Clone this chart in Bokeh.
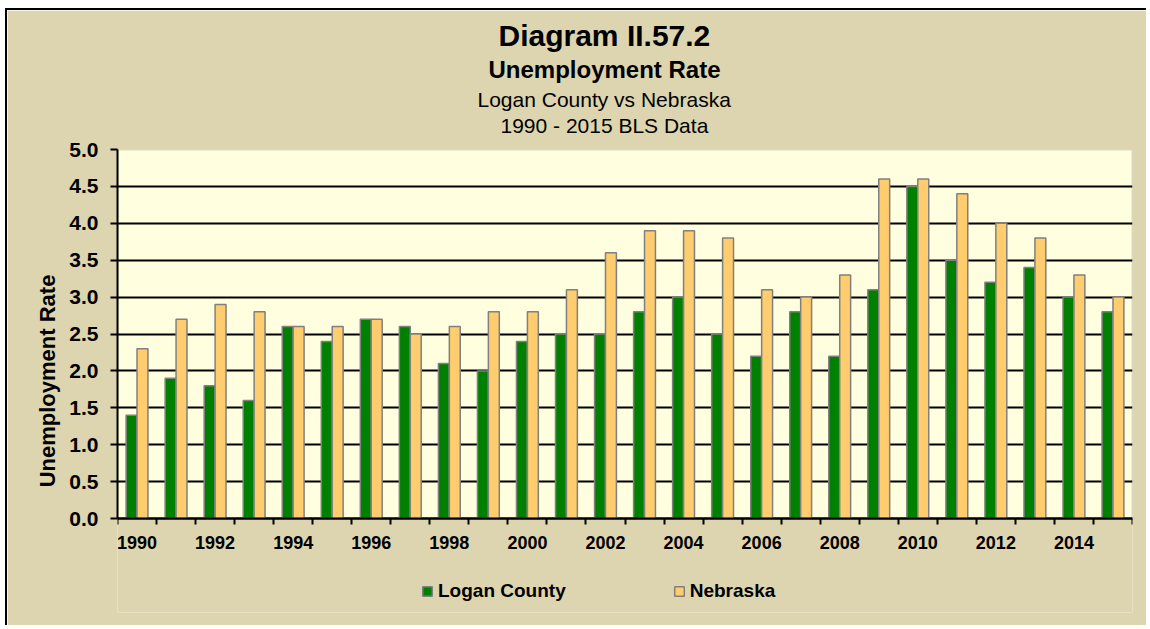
from bokeh.plotting import figure
from bokeh.models import (ColumnDataSource, FixedTicker, PrintfTickFormatter,
                          Title, Legend, LegendItem, Range1d, BoxAnnotation)
from bokeh.transform import dodge
from bokeh.embed import file_html
from bokeh.resources import INLINE

years = list(range(1990, 2016))
logan = [1.4, 1.9, 1.8, 1.6, 2.6, 2.4, 2.7, 2.6, 2.1, 2.0, 2.4, 2.5, 2.5,
         2.8, 3.0, 2.5, 2.2, 2.8, 2.2, 3.1, 4.5, 3.5, 3.2, 3.4, 3.0, 2.8]
nebraska = [2.3, 2.7, 2.9, 2.8, 2.6, 2.6, 2.7, 2.5, 2.6, 2.8, 2.8, 3.1, 3.6,
            3.9, 3.9, 3.8, 3.1, 3.0, 3.3, 4.6, 4.6, 4.4, 4.0, 3.8, 3.3, 3.0]
label_years = list(range(1990, 2016, 2))
y_ticks = [0.0, 0.5, 1.0, 1.5, 2.0, 2.5, 3.0, 3.5, 4.0, 4.5, 5.0]

src = ColumnDataSource(dict(year=years, logan=logan, nebraska=nebraska))

BG = "#DDD5AF"
PLOT_BG = "#FFFFE0"
FONT = "Liberation Sans"

# layout geometry (pixels): value axis 0..5 spans 369 px, and the frame
# extends 94 px below zero to hold the tick labels and the legend
Y_MAX = 5.0
AXIS_PX = 369
EXTRA_PX = 94
y_start = -Y_MAX * EXTRA_PX / AXIS_PX

p = figure(width=1141, height=617, output_backend="svg", toolbar_location=None,
           title=None,
           x_range=Range1d(years[0] - 0.5, years[-1] + 0.5),
           y_range=Range1d(y_start, Y_MAX),
           min_border_left=110, min_border_right=16,
           min_border_top=139, min_border_bottom=15,
           background_fill_color=BG, border_fill_color=BG,
           outline_line_color=None,
           styles={"margin-left": "5px", "margin-top": "8px",
                   "border-left": "2px solid black", "border-top": "2px solid black"})

# plot area background
p.add_layout(BoxAnnotation(bottom=0, top=Y_MAX, fill_color=PLOT_BG, fill_alpha=1,
                           line_color="#808080", line_width=2, level="image"))

r1 = p.vbar(x=dodge("year", -0.14, range=p.x_range), top="logan", width=0.28,
            source=src, fill_color="#008000", line_color="#808080", line_width=1.5)
r2 = p.vbar(x=dodge("year", 0.14, range=p.x_range), top="nebraska", width=0.28,
            source=src, fill_color="#FFCC6E", line_color="#808080", line_width=1.5)

# x axis
boundaries = [y - 0.5 for y in years] + [years[-1] + 0.5]
p.xaxis.fixed_location = 0
p.xaxis.ticker = FixedTicker(ticks=label_years, minor_ticks=boundaries)
p.xaxis.major_tick_line_color = None
p.xaxis.minor_tick_line_color = "black"
p.xaxis.minor_tick_line_width = 2
p.xaxis.minor_tick_out = 6
p.xaxis.minor_tick_in = 0
p.xaxis.axis_line_color = "black"
p.xaxis.axis_line_width = 2
p.xaxis.major_label_standoff = 11
p.xaxis.major_label_text_font = FONT
p.xaxis.major_label_text_font_style = "bold"
p.xaxis.major_label_text_font_size = "18px"
p.xaxis.major_label_text_color = "black"

# y axis
p.yaxis.bounds = (0, Y_MAX)
p.yaxis.ticker = FixedTicker(ticks=y_ticks)
p.yaxis.formatter = PrintfTickFormatter(format="%.1f")
p.yaxis.minor_tick_line_color = None
p.yaxis.major_tick_line_color = "black"
p.yaxis.major_tick_line_width = 2
p.yaxis.major_tick_out = 7
p.yaxis.major_tick_in = 0
p.yaxis.axis_line_color = "black"
p.yaxis.axis_line_width = 2
p.yaxis.major_label_standoff = 12
p.yaxis.major_label_text_font = FONT
p.yaxis.major_label_text_font_style = "bold"
p.yaxis.major_label_text_font_size = "21px"
p.yaxis.major_label_text_color = "black"
p.yaxis.axis_label = "Unemployment Rate"
p.yaxis.axis_label_text_font = FONT
p.yaxis.axis_label_text_font_style = "bold"
p.yaxis.axis_label_text_font_size = "22px"
p.yaxis.axis_label_text_color = "black"
p.yaxis.axis_label_standoff = 6

p.xgrid.grid_line_color = None
p.ygrid.grid_line_color = "black"
p.ygrid.grid_line_width = 2

# gap between the title block and the plot area
p.add_layout(Title(text=" ", standoff=9, text_font=FONT, text_font_size="1px"), "above")

# titles (first added sits closest to the plot)
titles = [("1990 - 2015 BLS Data", "normal", "21px", 2, 383),
          ("Logan County vs Nebraska", "normal", "21px", 0, 360),
          ("Unemployment Rate", "bold", "24px", 5, 371),
          ("Diagram II.57.2", "bold", "30px", 0, 381)]
for txt, style, size, so, off in titles:
    p.add_layout(Title(text=txt, align="left", offset=off, standoff=so,
                       text_font=FONT, text_font_style=style, text_font_size=size,
                       text_color="black"), "above")

legend = Legend(items=[LegendItem(label="Logan County", renderers=[r1]),
                       LegendItem(label="Nebraska", renderers=[r2])],
                location=(304, 10), orientation="horizontal",
                spacing=107, padding=0, margin=0,
                glyph_width=12, glyph_height=12, label_standoff=5,
                label_text_font=FONT, label_text_font_style="bold",
                label_text_font_size="19px", label_text_color="black",
                background_fill_alpha=0, border_line_alpha=0)
p.add_layout(legend, "center")

open("out.html", "w").write(file_html(p, INLINE))
